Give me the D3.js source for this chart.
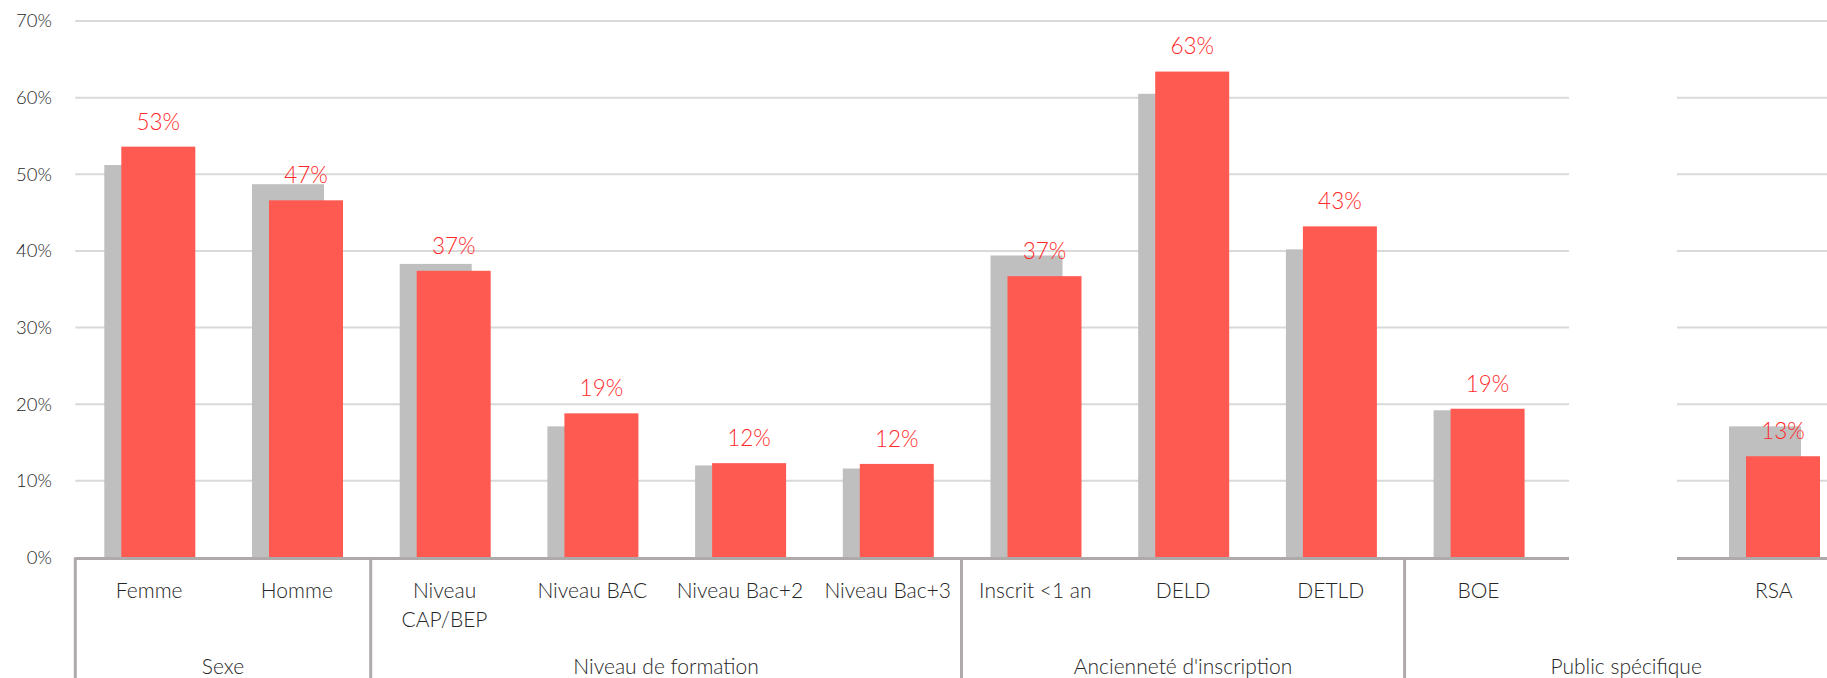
<!DOCTYPE html>
<html><head><meta charset="utf-8">
<script src="https://cdn.jsdelivr.net/npm/d3@7"></script>
<style>
html,body{margin:0;padding:0;background:#fff;}
text{font-family:Lato,"Open Sans",sans-serif;font-weight:300;}
</style></head>
<body>
<svg id="chart" width="1827" height="678"></svg>
<script>
const categories = ["Femme","Homme","Niveau\nCAP/BEP","Niveau BAC","Niveau Bac+2","Niveau Bac+3","Inscrit <1 an","DELD","DETLD","BOE","","RSA"];
const previousValues = [51.2,48.7,38.3,17.1,12.0,11.6,39.4,60.5,40.2,19.2,null,17.1];
const currentValues  = [53.6,46.6,37.4,18.8,12.3,12.2,36.7,63.4,43.2,19.4,null,13.2];
const currentLabels  = ["53%","47%","37%","19%","12%","12%","37%","63%","43%","19%","","13%"];
const groups = [
  {name:"Sexe", from:0, to:1},
  {name:"Niveau de formation", from:2, to:5},
  {name:"Ancienneté d'inscription", from:6, to:8},
  {name:"Public spécifique", from:9, to:11}
];
const yTicks = [0,10,20,30,40,50,60,70];

const svg = d3.select("#chart");
const left = 75.3, slot = 147.7;
const x = d3.scaleBand().domain(d3.range(categories.length)).range([left, left + slot*categories.length]).padding(0);
const y = d3.scaleLinear().domain([0,70]).range([557.4, 21]);

// gridlines
svg.append("g").selectAll("line").data(yTicks.filter(t=>t>0)).join("line")
  .attr("x1", left).attr("x2", 1827)
  .attr("y1", d=>y(d)).attr("y2", d=>y(d))
  .attr("stroke","#d9d9d9").attr("stroke-width",2);

// y tick labels
svg.append("g").selectAll("text").data(yTicks).join("text")
  .attr("x", 52).attr("y", d=>y(d)).attr("dy","0.35em")
  .attr("text-anchor","end").attr("font-size",18.5).attr("fill","#262626")
  .text(d=>d+"%");

const idx = d3.range(categories.length).filter(i=>currentValues[i]!=null);

// previous (gray) bars
svg.append("g").selectAll("rect").data(idx).join("rect")
  .attr("x", i=>x(i)+29).attr("width",72)
  .attr("y", i=>y(previousValues[i])).attr("height", i=>y(0)-y(previousValues[i]))
  .attr("fill","#bfbfbf");

// current (red) bars
svg.append("g").selectAll("rect").data(idx).join("rect")
  .attr("x", i=>x(i)+46).attr("width",74)
  .attr("y", i=>y(currentValues[i])).attr("height", i=>y(0)-y(currentValues[i]))
  .attr("fill","#ff5a51");

// value labels
svg.append("g").selectAll("text").data(idx).join("text")
  .attr("x", i=>x(i)+46+37).attr("y", i=>y(currentValues[i])-25).attr("dy","0.35em")
  .attr("text-anchor","middle").attr("font-size",22.5).attr("fill","#ff2a2a")
  .text(i=>currentLabels[i]);

// baseline
svg.append("line").attr("x1",left).attr("x2",1827).attr("y1",y(0)+1).attr("y2",y(0)+1)
  .attr("stroke","#aeaaaa").attr("stroke-width",3);

// white blank area (hidden legend)
svg.append("rect").attr("x",1569).attr("y",40).attr("width",108).attr("height",560).attr("fill","#fff");

// group separators
const seps = [0].concat(groups.map(g=>g.to+1));
svg.append("g").selectAll("line").data(seps).join("line")
  .attr("x1", i=>left+i*slot).attr("x2", i=>left+i*slot)
  .attr("y1", y(0)).attr("y2", 678)
  .attr("stroke","#aeaaaa").attr("stroke-width",3);

// category labels
const cl = svg.append("g").selectAll("text").data(d3.range(categories.length)).join("text")
  .attr("x", i=>x(i)+x.bandwidth()/2).attr("y", 598)
  .attr("text-anchor","middle").attr("font-size",21).attr("fill","#262626");
cl.each(function(i){
  const lines = categories[i].split("\n");
  const t = d3.select(this);
  lines.forEach((l,k)=>t.append("tspan").attr("x", x(i)+x.bandwidth()/2).attr("dy", k===0?0:29).text(l));
});

// group labels
svg.append("g").selectAll("text").data(groups).join("text")
  .attr("x", g=>(x(g.from)+x(g.to)+x.bandwidth())/2).attr("y", 674)
  .attr("text-anchor","middle").attr("font-size",21).attr("fill","#262626")
  .text(g=>g.name);
</script>
</body></html>
